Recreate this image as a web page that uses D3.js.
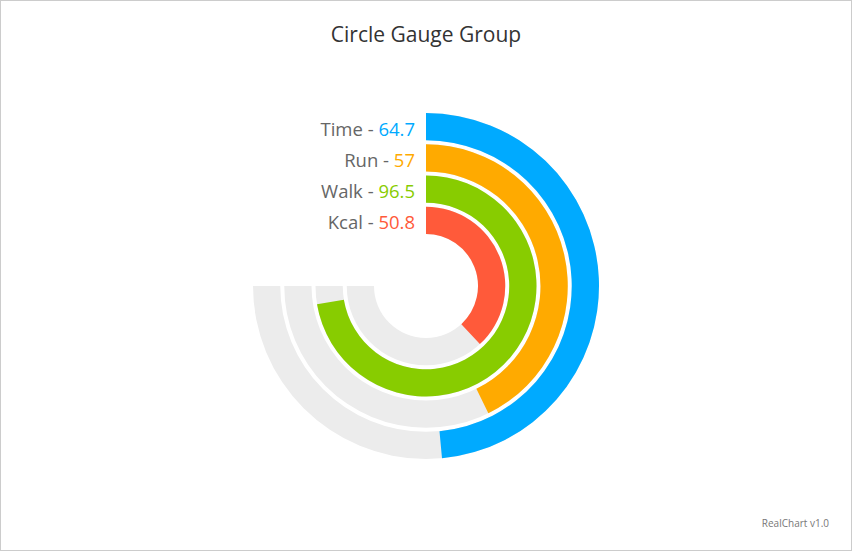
<!DOCTYPE html>
<html><head><meta charset="utf-8">
<script src="https://cdn.jsdelivr.net/npm/d3@7"></script>
<style>
html,body{margin:0;padding:0;background:#fff;}
svg{display:block;}
</style></head>
<body>
<svg id="chart" width="852" height="552"></svg>
<script>
const names = ["Time", "Run", "Walk", "Kcal"];
const values = [64.7, 57, 96.5, 50.8];
const colors = ["#00aaff", "#ffaa00", "#88cc00", "#ff5a3a"];
const gaugeMin = 0, gaugeMax = 100;
const sweepDegrees = [0, 270];

const W = 852, H = 552;
const svg = d3.select("#chart");
const font = "'Open Sans', 'Noto Sans', sans-serif";

svg.append("rect").attr("x", 0.5).attr("y", 0.5).attr("width", 851).attr("height", 550)
  .attr("fill", "#fff").attr("stroke", "#cccccc");

svg.append("text").attr("x", 426).attr("y", 42).attr("text-anchor", "middle")
  .attr("font-family", font).attr("font-size", 21).attr("fill", "#333")
  .text("Circle Gauge Group");

svg.append("text").attr("x", 829).attr("y", 527).attr("text-anchor", "end")
  .attr("font-family", font).attr("font-size", 10).attr("fill", "#777")
  .text("RealChart v1.0");

const cx = 426, cy = 286;
const outerR = 173, innerR = 52, gap = 4;
const n = names.length;
const thick = (outerR - innerR - gap * (n - 1)) / n;

const angle = d3.scaleLinear().domain([gaugeMin, gaugeMax])
  .range(sweepDegrees.map(d => d * Math.PI / 180));

const g = svg.append("g").attr("transform", `translate(${cx},${cy})`);
const arc = d3.arc();

names.forEach((name, i) => {
  const ro = outerR - i * (thick + gap);
  const ri = ro - thick;
  g.append("path").attr("d", arc({innerRadius: ri, outerRadius: ro,
      startAngle: angle(gaugeMin), endAngle: angle(gaugeMax)}))
    .attr("fill", "#ececec");
  g.append("path").attr("d", arc({innerRadius: ri, outerRadius: ro,
      startAngle: angle(gaugeMin), endAngle: angle(values[i])}))
    .attr("fill", colors[i]);
  const t = g.append("text").attr("x", -11).attr("y", -(ro + ri) / 2 + 4)
    .attr("text-anchor", "end").attr("dominant-baseline", "middle")
    .attr("font-family", font).attr("font-size", 18.5);
  t.append("tspan").attr("fill", "#666").text(name + " - ");
  t.append("tspan").attr("fill", colors[i]).text(values[i]);
});
</script>
</body></html>
